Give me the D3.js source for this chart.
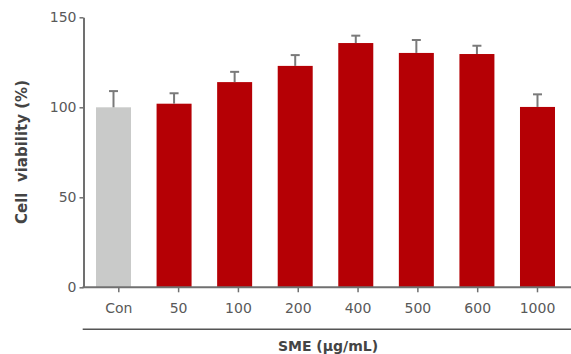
<!DOCTYPE html>
<html>
<head>
<meta charset="utf-8">
<script src="https://cdnjs.cloudflare.com/ajax/libs/d3/7.8.5/d3.min.js"></script>
<style>
  html, body { margin: 0; padding: 0; background: #fff; }
  svg { display: block; }
  text { font-family: "DejaVu Sans", sans-serif; }
</style>
</head>
<body>
<svg id="chart" width="571" height="354"></svg>
<script>
// SME concentrations (µg/mL) and measured cell viability (%) with error
const categories = ["Con", "50", "100", "200", "400", "500", "600", "1000"];
const viability  = [100, 102, 114, 123, 135.7, 130.2, 129.6, 100.2];
const errors     = [9, 5.8, 5.7, 6, 4.1, 7.2, 4.6, 7];
const yTicks     = [0, 50, 100, 150];

const svg = d3.select("#chart");
const axisColor = "#707070";
const labelColor = "#595959";

const y = d3.scaleLinear().domain([0, 150]).range([287.3, 17.3]);

// bar placement: 35px bars on a ~60.6px step, first bar starting at x=96
const step = 60.57, barW = 35;
const gap = (step - barW) / step;
const x0 = 96 - (step - barW) / 2;
const xBar = d3.scaleBand()
  .domain(categories)
  .range([x0, x0 + step * categories.length])
  .paddingInner(gap)
  .paddingOuter(gap / 2);

// tick placement for category labels
const xTick = d3.scalePoint().domain(categories).range([118.3, 537]);

const axisX0 = 83.5;

// bars
svg.append("g").selectAll("rect")
  .data(categories)
  .join("rect")
  .attr("x", d => xBar(d))
  .attr("width", xBar.bandwidth())
  .attr("y", (d, i) => y(viability[i]))
  .attr("height", (d, i) => y(0) - y(viability[i]))
  .attr("fill", (d, i) => i === 0 ? "#c9cac9" : "#b50005");

// error bars (upper half)
const eb = svg.append("g").attr("stroke", "#7a7a7a").attr("stroke-width", 2);
categories.forEach((c, i) => {
  const cx = xBar(c) + xBar.bandwidth() / 2;
  const top = y(viability[i] + errors[i]);
  eb.append("line")
    .attr("x1", cx).attr("x2", cx)
    .attr("y1", y(viability[i])).attr("y2", top);
  eb.append("line")
    .attr("x1", cx - 4.5).attr("x2", cx + 4.5)
    .attr("y1", top).attr("y2", top);
});

// y axis
const gy = svg.append("g")
  .attr("transform", `translate(${axisX0},0)`)
  .call(d3.axisLeft(y).tickValues(yTicks).tickSize(4).tickSizeOuter(0).tickPadding(3));
gy.select(".domain").attr("stroke", axisColor).attr("stroke-width", 2);
gy.selectAll(".tick line").attr("stroke", axisColor).attr("stroke-width", 1.5);
gy.selectAll(".tick text")
  .attr("fill", labelColor).style("font-size", "14px").style("font-family", "DejaVu Sans, sans-serif");

// x axis
const gx = svg.append("g")
  .attr("transform", `translate(0,${y(0)})`)
  .call(d3.axisBottom(xTick).tickSize(5).tickSizeOuter(0).tickPadding(11));
gx.select(".domain").remove();
gx.append("line")
  .attr("x1", axisX0 - 1).attr("x2", 571)
  .attr("y1", 0).attr("y2", 0)
  .attr("stroke", axisColor).attr("stroke-width", 2);
gx.selectAll(".tick line").attr("stroke", axisColor).attr("stroke-width", 1.5);
gx.selectAll(".tick text")
  .attr("fill", labelColor).style("font-size", "14px").style("font-family", "DejaVu Sans, sans-serif");

// separator above the x-axis title
svg.append("line")
  .attr("x1", 82.7).attr("x2", 571)
  .attr("y1", 329.3).attr("y2", 329.3)
  .attr("stroke", "#555").attr("stroke-width", 1.5);

// axis titles
svg.append("text")
  .attr("x", 328).attr("y", 350.5)
  .attr("text-anchor", "middle")
  .attr("fill", "#444")
  .style("font-size", "14px").style("font-weight", "bold")
  .text("SME (μg/mL)");

svg.append("text")
  .attr("transform", "translate(26.5,152) rotate(-90)")
  .attr("text-anchor", "middle")
  .attr("fill", "#444")
  .style("font-size", "15px").style("font-weight", "bold")
  .style("white-space", "pre")
  .attr("xml:space", "preserve")
  .text("Cell  viability (%)");
</script>
</body>
</html>
